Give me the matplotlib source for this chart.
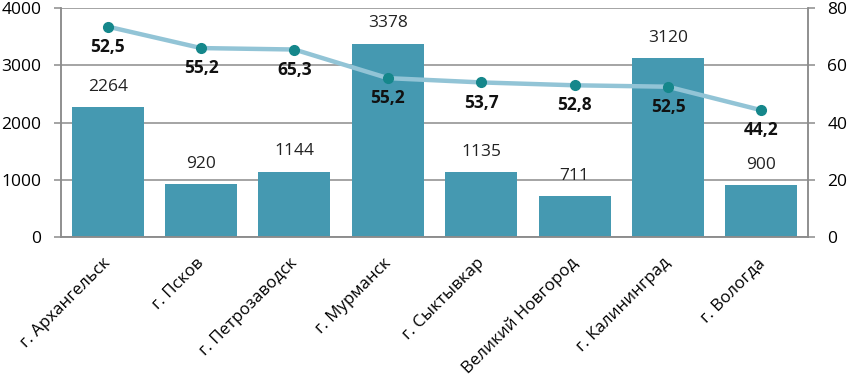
import matplotlib
matplotlib.use("Agg")
import matplotlib.pyplot as plt
import matplotlib.transforms as mtransforms
import numpy as np

categories = ["г. Архангельск", "г. Псков", "г. Петрозаводск", "г. Мурманск",
              "г. Сыктывкар", "Великий Новгород", "г. Калининград", "г. Вологда"]
bar_values = [2264, 920, 1144, 3378, 1135, 711, 3120, 900]
line_values = [73.5, 66.0, 65.5, 55.5, 54.0, 53.0, 52.5, 44.3]
line_labels = ["52,5", "55,2", "65,3", "55,2", "53,7", "52,8", "52,5", "44,2"]
left_ticks = [0, 1000, 2000, 3000, 4000]
right_ticks = [0, 20, 40, 60, 80]

plt.rcParams['font.family'] = ['Open Sans', 'DejaVu Sans']

W, H = 851, 379
fig = plt.figure(figsize=(W / 100, H / 100), dpi=100)
ax = fig.add_axes([61 / W, 1 - 237 / H, (808 - 61) / W, (237 - 8) / H])
ax2 = ax.twinx()

grid_c = "#8c8c8c"
x = np.arange(len(categories))
ax.set_axisbelow(True)
ax.yaxis.grid(True, color=grid_c, linewidth=1.1)
ax.bar(x, bar_values, width=0.77, color="#4599b1", zorder=2)
ax.set_xlim(-0.5, len(categories) - 0.5)
ax.set_ylim(0, 4000)
ax.set_yticks(left_ticks)
ax.set_yticklabels([str(t) for t in left_ticks], fontsize=12.5)

for xi, v in zip(x, bar_values):
    ax.annotate(str(v), (xi, v), xytext=(0, 14.5), textcoords="offset points",
                ha="center", va="center", fontsize=12.5, color="#222222")

ax2.plot(x, line_values, color="#92c4d6", linewidth=3.2, zorder=3,
         marker="o", markersize=7, markerfacecolor="#15878b", markeredgecolor="#15878b")
ax2.set_ylim(0, 80)
ax2.set_yticks(right_ticks)
ax2.set_yticklabels([str(t) for t in right_ticks], fontsize=12.5)
for xi, v, lab in zip(x, line_values, line_labels):
    ax2.annotate(lab, (xi, v), xytext=(0, -14.5), textcoords="offset points",
                 ha="center", va="center", fontsize=12.5, fontweight="bold", color="#111111")

ax.set_xticks(x)
ax.set_xticklabels(categories, rotation=45, ha="right", rotation_mode="anchor",
                   fontsize=12.2)
ax.tick_params(axis="x", length=0, pad=13)
shift = mtransforms.ScaledTranslation(-5 / 100, 0, fig.dpi_scale_trans)
for lab in ax.get_xticklabels():
    lab.set_transform(lab.get_transform() + shift)

for a in (ax, ax2):
    a.tick_params(axis="y", length=5, color=grid_c, width=1.1, pad=9)
    a.spines["top"].set_visible(False)
    for s in ("left", "right", "bottom"):
        a.spines[s].set_color(grid_c)
        a.spines[s].set_linewidth(1.1)

fig.savefig("out.png", dpi=100)
